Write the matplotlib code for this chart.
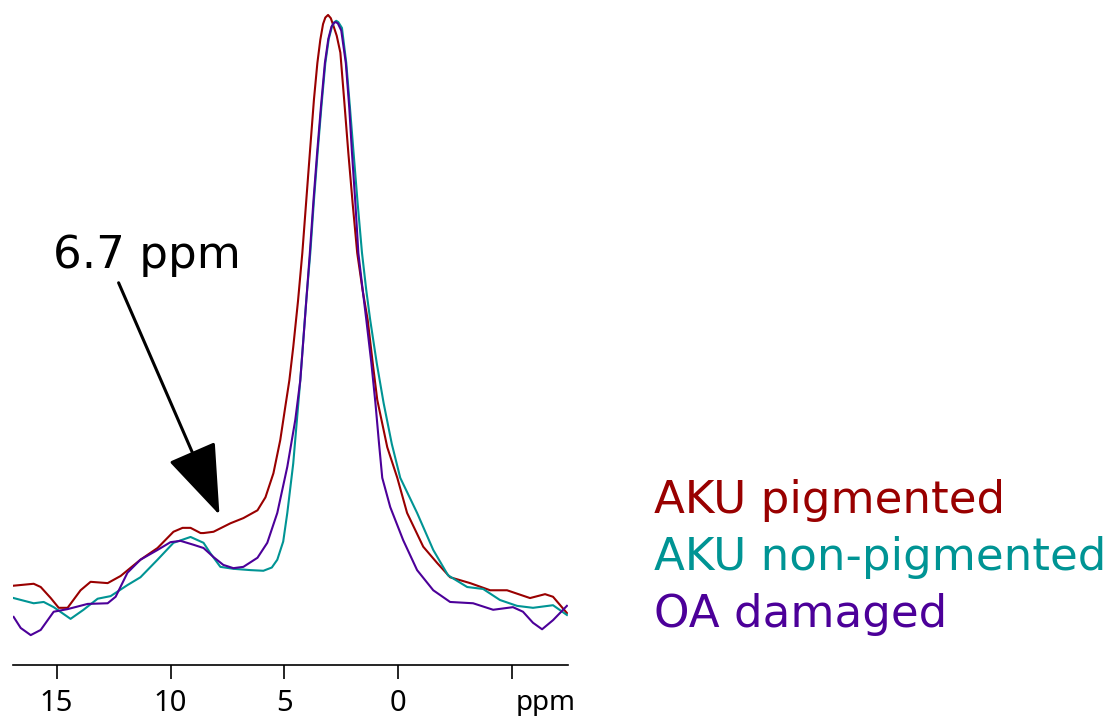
import matplotlib
matplotlib.use("Agg")
import matplotlib.pyplot as plt

# chemical shift (ppm) / intensity (a.u.)
aku_pig_ppm = [16.90, 16.01, 15.70, 15.26, 14.91, 14.52, 13.95, 13.51, 12.76, 12.19,
               11.32, 10.57, 9.87, 9.47, 9.12, 8.68, 8.55, 8.11, 7.37, 6.80,
               6.18, 5.83, 5.48, 5.18, 4.96, 4.78, 4.61, 4.40, 4.21, 4.03, 3.86, 3.70, 3.55,
               3.42, 3.30, 3.20, 3.08, 2.96, 2.85, 2.70, 2.54, 2.37, 2.19, 2.00, 1.80, 1.56, 1.34,
               1.12, 0.92, 0.48, 0.04, -0.39,
               -1.10, -1.71, -2.28, -3.16, -4.04, -4.78, -5.79, -6.45, -6.80, -7.41]
aku_pig_int = [12.2, 12.5, 12.0, 10.3, 8.8, 8.8, 11.5, 12.8, 12.6, 13.7,
               16.2, 18.0, 20.5, 21.1, 21.1, 20.3, 20.3, 20.5, 21.8, 22.6,
               23.8, 25.8, 29.5, 34.6, 39.7, 43.8, 48.9, 56.0, 63.4, 71.8, 79.7, 87.0, 92.6,
               96.2, 98.6, 99.6, 100.0, 99.5, 98.4, 96.8, 94.2, 86.8, 78.8, 71.0, 63.4, 57.6, 53.1,
               46.5, 40.8, 33.5, 28.8, 23.4,
               18.2, 15.7, 13.5, 12.6, 11.5, 11.5, 10.3, 10.9, 10.5, 8.0]

aku_non_ppm = [16.89, 16.01, 15.57, 15.13, 14.39, 13.82, 13.20, 12.63, 11.89, 11.32,
               10.57, 9.87, 9.12, 8.55, 8.25, 7.81, 7.24, 6.49, 5.92, 5.55, 5.31,
               5.05, 4.87, 4.61, 4.30, 4.21, 4.04, 3.86, 3.70, 3.54, 3.37, 3.20, 3.05, 2.91,
               2.80, 2.72, 2.63, 2.47,
               2.28, 2.12, 1.96, 1.78, 1.59, 1.40, 1.23, 0.94, 0.64, 0.28, -0.09, -0.83,
               -1.54, -2.19, -3.03,
               -3.73, -4.47, -5.22, -5.92, -6.80, -7.41]
aku_non_int = [10.3, 9.5, 9.7, 8.9, 7.1, 8.5, 10.2, 10.6, 12.3, 13.5,
               16.2, 18.8, 19.7, 18.8, 17.2, 15.1, 14.8, 14.6, 14.5, 15.0, 16.2,
               19.0, 23.4, 31.0, 43.8, 48.0, 56.0, 63.4, 71.5, 78.8, 86.0, 92.6, 96.3, 98.2,
               98.9, 99.1, 98.9, 98.0,
               92.6, 85.8, 78.8, 71.0, 63.4, 57.6, 53.1, 46.4, 40.3, 34.0, 28.8, 23.4,
               17.7, 13.8, 12.0,
               11.7, 10.0, 9.1, 8.8, 9.2, 7.7]

oa_ppm = [16.89, 16.58, 16.14, 15.70, 15.13, 14.52, 13.64, 12.76, 12.41, 11.89,
          11.32, 10.57, 10.00, 9.56, 8.99, 8.55, 8.11, 7.68, 7.24, 6.80,
          6.18, 5.75, 5.31, 4.87, 4.52, 4.30, 4.08, 3.88, 3.72, 3.56, 3.39, 3.22, 3.07, 2.93,
          2.82, 2.74, 2.65, 2.50, 2.30, 2.15, 2.03, 1.88, 1.75, 1.57, 1.40, 1.18, 1.00, 0.84,
          0.70, 0.35, -0.22,
          -0.83, -1.54, -2.28, -3.29, -4.17, -5.04, -5.48, -5.92, -6.32, -6.80, -7.41]
oa_int = [7.4, 5.7, 4.6, 5.4, 8.2, 8.6, 9.4, 9.5, 10.5, 14.2,
          16.2, 17.7, 18.9, 19.1, 18.5, 18.0, 16.6, 15.4, 14.9, 15.1,
          16.5, 18.8, 23.4, 30.5, 37.7, 43.8, 54.0, 63.4, 71.5, 78.8, 86.0, 92.6, 96.3, 98.2,
          98.8, 98.9, 98.7, 97.6, 92.6, 85.8, 78.8, 71.0, 63.4, 58.0, 53.1, 46.5, 40.3, 34.0,
          28.8, 24.3, 19.2,
          14.6, 11.5, 9.7, 9.5, 8.5, 8.9, 8.2, 6.5, 5.5, 6.9, 9.1]

labels = ["AKU pigmented", "AKU non-pigmented", "OA damaged"]
colors = ["#990000", "#009494", "#4c0099"]

tick_pos = [15, 10, 5, 0, -5]
tick_text = ["15", "10", "5", "0", ""]

fig = plt.figure(figsize=(11.16, 7.16), dpi=100)
ax = fig.add_axes([0.0114, 0.0712, 0.4976, 0.9288])

series = [(aku_pig_ppm, aku_pig_int), (aku_non_ppm, aku_non_int), (oa_ppm, oa_int)]
for (x, y), c in zip(series, colors):
    ax.plot(x, y, color=c, lw=1.5, solid_joinstyle="round")

ax.set_xlim(16.93, -7.46)
ax.set_ylim(0, 102.3)
for s in ["left", "right", "top"]:
    ax.spines[s].set_visible(False)
ax.spines["bottom"].set_linewidth(1.2)
ax.set_yticks([])
ax.set_xticks(tick_pos)
ax.set_xticklabels(tick_text, fontfamily="Noto Sans", fontsize=21)
ax.tick_params(axis="x", direction="out", length=10, width=1.2, pad=7)
# unit label sits at the right end of the axis, past the last tick
fig.text(546 / 1116, 1 - 710 / 716, "ppm", fontfamily="Noto Sans", fontsize=20,
         ha="center", va="baseline")

ax.text(15.18, 61.1, "6.7 ppm", fontsize=32.5, ha="left", va="baseline")
ax.annotate("", xy=(7.85, 23.1), xytext=(12.28, 58.8),
            arrowprops=dict(arrowstyle="-|>,head_length=0.75,head_width=0.27",
                            mutation_scale=60, lw=2.2, color="black",
                            shrinkA=0, shrinkB=0))

for i, (lab, c) in enumerate(zip(labels, colors)):
    fig.text(654 / 1116, 1 - (513 + 57 * i) / 716, lab, color=c,
             fontsize=32.5, ha="left", va="baseline")

fig.savefig("out.png", dpi=100)
